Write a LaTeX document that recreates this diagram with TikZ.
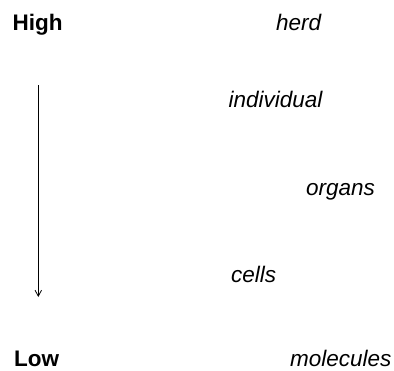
\documentclass[tikz,border=0pt]{standalone}
\usepackage{fontspec}
\setmainfont{Liberation Sans}
\usetikzlibrary{arrows.meta}
\begin{document}
\begin{tikzpicture}[x=1pt,y=-1pt,
  lbl/.style={anchor=base west,inner sep=0pt,font=\fontsize{22.5}{27}\selectfont\bfseries},
  item/.style={anchor=base west,inner sep=0pt,font=\fontsize{22.5}{27}\selectfont\itshape},
  axis/.style={line width=0.8pt,-{Straight Barb[length=6pt,width=6.5pt]}}]
\useasboundingbox (0,0) rectangle (394,370);
\node[lbl] (high) at (12.5,30.5) {High};
\node[lbl] (low) at (14,366) {Low};
\node[item] (herd) at (276,30.5) {herd};
\node[item] (individual) at (228.5,107.5) {individual};
\node[item] (organs) at (306,195) {organs};
\node[item] (cells) at (231,282) {cells};
\node[item] (molecules) at (290,366) {molecules};
\coordinate (atop) at (38.3,85);
\coordinate (abot) at (38.3,297);
\draw[axis] (atop) -- (abot);
\end{tikzpicture}
\end{document}
